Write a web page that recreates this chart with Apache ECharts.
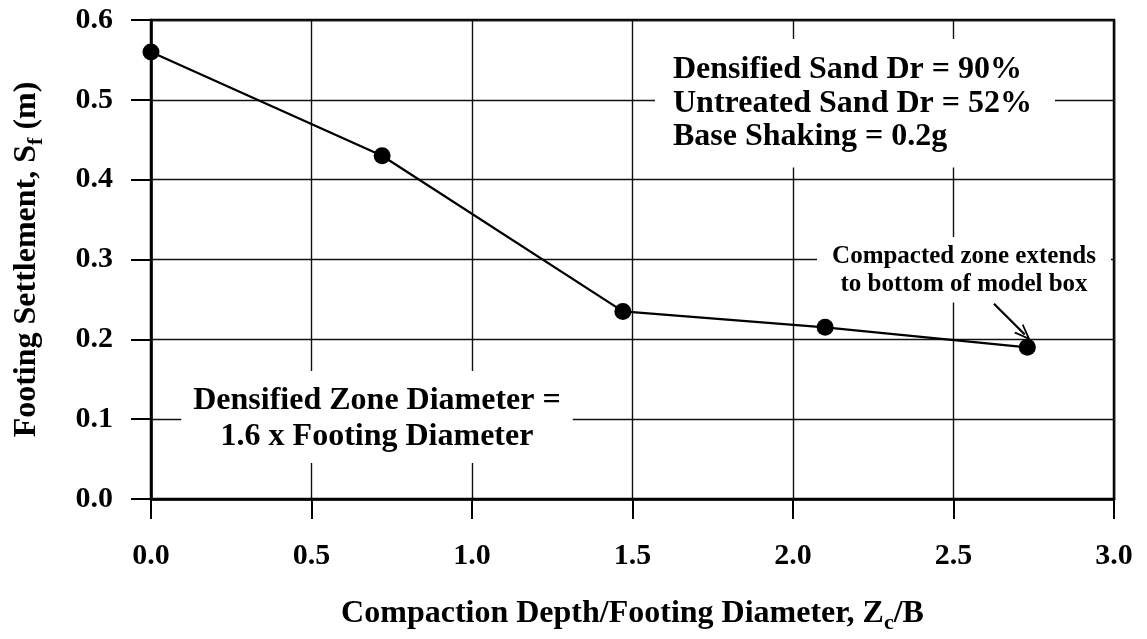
<!DOCTYPE html>
<html lang="en">
<head>
<meta charset="UTF-8">
<title>Footing Settlement vs Compaction Depth</title>
<script src="https://cdn.jsdelivr.net/npm/echarts@6/dist/echarts.min.js"></script>
<style>
    html, body { margin: 0; padding: 0; background: #fff; }
    #container { width: 1147px; height: 639px; }
</style>
</head>
<body>
<div id="container"></div>
<script>
    var depthRatio = [0, 0.72, 1.47, 2.10, 2.73];
    var settlement = [0.56, 0.43, 0.235, 0.215, 0.19];

    // axis ranges
    var xRange = [0, 3.0, 0.5];
    var yRange = [0, 0.6, 0.1];

    // annotations
    var noteParams = ['Densified Sand Dr = 90%', 'Untreated Sand Dr = 52%', 'Base Shaking = 0.2g'];
    var noteZone = ['Densified Zone Diameter =', '1.6 x Footing Diameter'];
    var noteBox = ['Compacted zone extends', 'to bottom of model box'];
    var arrowFrom = [2.626, 0.2445];
    var arrowTo = [2.722, 0.206];

    var serif = '"Liberation Serif", "Times New Roman", serif';

    var chart = echarts.init(document.getElementById('container'));

    var points = [];
    for (var i = 0; i < depthRatio.length; i++) {
        points.push([depthRatio[i], settlement[i]]);
    }

    var option = {
        backgroundColor: '#ffffff',
        animation: false,
        grid: {
            left: 151,
            top: 20,
            right: 33,
            bottom: 138,
            show: true,
            borderColor: '#000',
            borderWidth: 2.5
        },
        xAxis: {
            type: 'value',
            min: xRange[0],
            max: xRange[1],
            interval: xRange[2],
            name: 'Compaction Depth/Footing Diameter, Z{sub|c}/B',
            nameLocation: 'middle',
            nameGap: 95,
            nameTextStyle: {
                fontFamily: serif,
                fontWeight: 'bold',
                fontSize: 32,
                color: '#000',
                rich: {
                    sub: { fontFamily: serif, fontWeight: 'bold', fontSize: 22, color: '#000', padding: [18, 0, 0, 0] }
                }
            },
            axisLine: { lineStyle: { color: '#000', width: 2.5 } },
            axisTick: { inside: false, length: 20, lineStyle: { color: '#000', width: 2 } },
            axisLabel: {
                margin: 42,
                fontFamily: serif,
                fontWeight: 'bold',
                fontSize: 30,
                color: '#000',
                formatter: function (v) { return v.toFixed(1); }
            },
            splitLine: { show: true, lineStyle: { color: '#111', width: 1.4 } }
        },
        yAxis: {
            type: 'value',
            min: yRange[0],
            max: yRange[1],
            interval: yRange[2],
            name: 'Footing Settlement, S{sub|f} (m)',
            nameLocation: 'middle',
            nameGap: 104,
            nameTextStyle: {
                fontFamily: serif,
                fontWeight: 'bold',
                fontSize: 32,
                color: '#000',
                rich: {
                    sub: { fontFamily: serif, fontWeight: 'bold', fontSize: 22, color: '#000', padding: [18, 0, 0, 0] }
                }
            },
            axisLine: { lineStyle: { color: '#000', width: 2.5 } },
            axisTick: { inside: false, length: 20, lineStyle: { color: '#000', width: 2 } },
            axisLabel: {
                margin: 38,
                fontFamily: serif,
                fontWeight: 'bold',
                fontSize: 30,
                color: '#000',
                formatter: function (v) { return v.toFixed(1); }
            },
            splitLine: { show: true, lineStyle: { color: '#111', width: 1.4 } }
        },
        graphic: [{
            type: 'text',
            x: 655,
            y: 39,
            z: 10,
            style: {
                text: noteParams.join('\n'),
                font: 'bold 32px ' + serif,
                fill: '#000',
                lineHeight: 33.5,
                align: 'left',
                verticalAlign: 'top',
                backgroundColor: '#fff',
                padding: [14, 23, 14, 18]
            }
        }, {
            type: 'text',
            x: 377,
            y: 371,
            z: 10,
            style: {
                text: noteZone.join('\n'),
                font: 'bold 32px ' + serif,
                fill: '#000',
                lineHeight: 36,
                align: 'center',
                verticalAlign: 'top',
                backgroundColor: '#fff',
                padding: [12, 12, 8, 12]
            }
        }, {
            type: 'text',
            x: 964,
            y: 237,
            z: 10,
            style: {
                text: noteBox.join('\n'),
                font: 'bold 25px ' + serif,
                fill: '#000',
                lineHeight: 28.3,
                align: 'center',
                verticalAlign: 'top',
                backgroundColor: '#fff',
                padding: [5, 15, 4, 15]
            }
        }],
        series: [{
            type: 'line',
            data: points,
            z: 20,
            symbol: 'circle',
            symbolSize: 17,
            itemStyle: { color: '#000' },
            lineStyle: { color: '#000', width: 2.3 },
            markLine: {
                silent: true,
                symbol: ['none', 'path://M0,10 L5,0 L10,10 L8.6,10 L5,3 L1.4,10 Z'],
                symbolSize: [13, 17],
                label: { show: false },
                lineStyle: { color: '#000', width: 2.3, type: 'solid' },
                data: [[{ coord: arrowFrom }, { coord: arrowTo }]]
            }
        }]
    };

    chart.setOption(option);
</script>
</body>
</html>
